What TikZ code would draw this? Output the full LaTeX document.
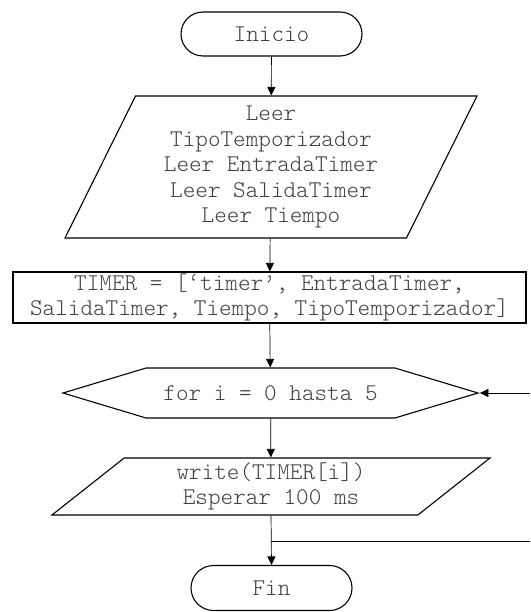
\documentclass[tikz,border=0pt]{standalone}
\usepackage{fontspec}
\setmonofont{Latin Modern Mono Light}
\usetikzlibrary{shapes.misc,shapes.geometric,shapes.symbols,arrows.meta}

\begin{document}
\begin{tikzpicture}[x=1pt,y=-1pt,
    every node/.style={font=\ttfamily\fontsize{24}{25.5}\selectfont,text=black!75,align=center,line width=1.1pt},
    terminal/.style={draw,rounded rectangle,minimum width=181pt,minimum height=44pt,inner sep=0pt},
    io/.style={draw,trapezium,trapezium stretches body,inner sep=0pt},
    process/.style={draw,rectangle,minimum width=513pt,minimum height=51pt,inner sep=0pt},
    loophead/.style={draw,signal,signal to=west and east,signal pointer angle=33.5,minimum width=415pt,minimum height=50pt,inner sep=0pt},
    flow/.style={line width=0.7pt,-{Triangle[width=8pt,length=8.5pt]}}]
  \useasboundingbox (0,0) rectangle (530,612);

  % the blocks, top to bottom
  \node[terminal] (inicio) at (271.5,34) {Inicio};
  \node[io,trapezium left angle=60,trapezium right angle=120,
        minimum width=412pt,minimum height=142pt] (leer) at (271,167)
    {Leer\\TipoTemporizador\\Leer EntradaTimer\\Leer SalidaTimer\\Leer Tiempo};
  \node[process] (timer) at (269.5,297.5)
    {TIMER = [‘timer’, EntradaTimer,\\SalidaTimer, Tiempo, TipoTemporizador]};
  \node[loophead] (for) at (270.5,393) {for i = 0 hasta 5};
  \node[io,trapezium left angle=33.5,trapezium right angle=146.5,
        minimum width=438pt,minimum height=57pt] (write) at (271,486.5)
    {write(TIMER[i])\\Esperar 100 ms};
  \node[terminal,minimum width=161pt,minimum height=45pt] (fin) at (271.5,588) {Fin};

  % loop ends running out of the frame
  \coordinate (loopin) at (530,393);
  \coordinate (loopout) at (530,541);
  \coordinate (branch) at (271,541);

  \foreach \s/\t in {inicio/leer,leer/timer,timer/for,for/write}
    \draw[flow] (\s) -- (\t);
  \draw[flow] (write.south) -- (fin.north);
  \draw[line width=0.7pt] (branch) -- (loopout);
  \draw[flow] (loopin) -- (for.east);
\end{tikzpicture}
\end{document}
